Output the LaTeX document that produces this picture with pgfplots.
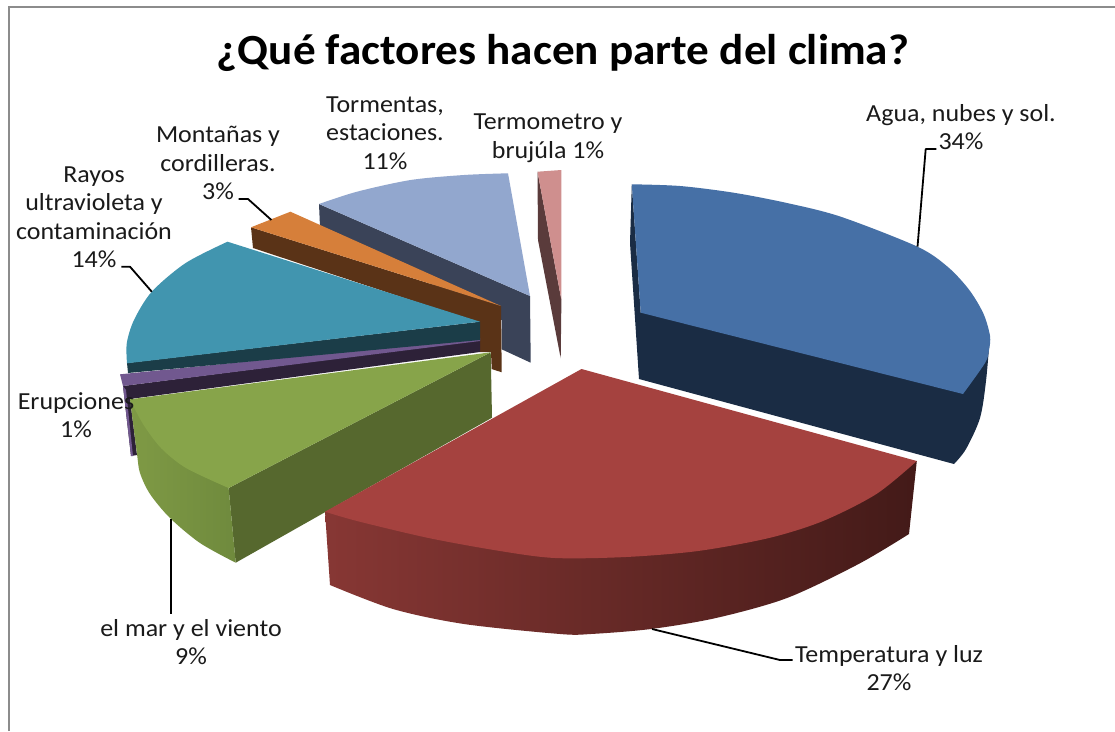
\documentclass[border=0pt]{standalone}
\usepackage{pgfplots}
\pgfplotsset{compat=1.18}
\usepackage{fontspec}
\setmainfont{Carlito}
\definecolor{cBlue}{HTML}{4670A6}\definecolor{cBlueD}{HTML}{1A2C44}
\definecolor{cRed}{HTML}{A5423F}\definecolor{cRedL}{HTML}{873734}\definecolor{cRedM}{HTML}{562321}\definecolor{cRedD}{HTML}{431A18}
\definecolor{cGreen}{HTML}{87A44A}\definecolor{cGreenD}{HTML}{56682E}\definecolor{cGreenL}{HTML}{7F9A45}\definecolor{cGreenM}{HTML}{6F8A3D}
\definecolor{cPurple}{HTML}{71588F}\definecolor{cPurpleD}{HTML}{2D2138}
\definecolor{cTeal}{HTML}{4195AF}\definecolor{cTealD}{HTML}{1B3D48}
\definecolor{cOrange}{HTML}{D67F3A}\definecolor{cOrangeD}{HTML}{5A3317}
\definecolor{cLBlue}{HTML}{92A7CE}\definecolor{cLBlueD}{HTML}{3A4358}
\definecolor{cPink}{HTML}{CF8F8E}\definecolor{cPinkD}{HTML}{5A3B3B}
\definecolor{cFrame}{HTML}{8C8C8C}\definecolor{cText}{HTML}{1A1A1A}
\tikzset{
  lab/.style={align=center,text=cText,transform shape,xscale=1.06,font=\fontsize{24.5}{28.5}\selectfont},
  lead/.style={draw=black,line width=1.8pt,line join=round},
  face/.style={draw=none,fill=#1}}
\begin{document}
\begin{tikzpicture}
\begin{axis}[scale only axis,width=1115pt,height=731pt,xmin=0,xmax=1115,ymin=0,ymax=731,y dir=reverse,hide axis]
\addplot[face=white] coordinates {(0,0)(1115,0)(1115,731)(0,731)} -- cycle;
\addplot[draw=cFrame,line width=2.5pt] coordinates {(9,731)(9,7)(1115,7)};
% blue
\addplot[face=cBlueD,smooth] coordinates {(990,335)(986,381)(980,418)(966,449)(954,464)} -- (639,379) -- (630,243) -- (631.8,184.3) -- (640.7,312.7) -- cycle;
\addplot[face=cBlue,smooth] coordinates {(631.8,184.3)(680,186)(733.6,192.7)(787,203)(840.7,216.7)(917.5,246.7)(947.9,267)(969.3,290)(983.6,314)(990,336)(989,350)(985,363)(963,394)} -- (640.7,312.7) -- cycle;
% pink
\addplot[face=cPinkD] coordinates {(537.5,171.7)(538,240)(560.7,358.3)(561.4,300)} -- cycle;
\addplot[face=cPink] coordinates {(537.5,171.7)(561.4,170)(561.4,300)} -- cycle;
% light blue
\addplot[face=cLBlueD] coordinates {(319,204)(320,227)(501.7,320)(501.7,349.3)(530.7,362.7)(530,296)} -- cycle;
\addplot[face=cLBlue,smooth] coordinates {(319,204)(357,191.7)(410.7,180)(464,175)(508,173.3)} -- (530,296) -- cycle;
% orange
\addplot[face=cOrangeD] coordinates {(251,227.3)(253,248)(480,323)(480,352)(491,352)(491.7,369)(501.7,372.3)(501,306)} -- cycle;
\addplot[face=cOrange] coordinates {(251,227.3)(290.4,211.7)(501,306)} -- cycle;
% purple
\addplot[face=cPurpleD] coordinates {(123,386)(480,340)(480,352)(130,399)(137,455)(131,456)} -- cycle;
\addplot[face=cPurple] coordinates {(120,374.3)(123,386)(480,341)(480,338)} -- cycle;
\addplot[face=cPurple] coordinates {(123,386)(126,390)(133,456)(131,456)} -- cycle;
% teal
\addplot[face=cTealD] coordinates {(127,363)(128,373)(480,340)(480,321.7)} -- cycle;
\addplot[face=cTeal,smooth] coordinates {(227.5,241.7)(185.7,263)(151.8,291.7)(134,320)(126.8,343)(127,363.3)} -- (480,321.7) -- cycle;
% green
\addplot[face=cGreenD] coordinates {(490.7,352.3)(228.6,488)(235.7,562.7)(492,417.7)} -- cycle;
\addplot[smooth,draw=none,left color=cGreenL,right color=cGreenM] coordinates {(130,399.3)(137,454)(140,473)(150,494)(170,518)(200,543)(235.7,562.7)} -- (228.6,488) -- cycle;
\addplot[face=cGreen,smooth] coordinates {(130,399.3)(143,424)(161,448)(186,468)(228.6,488)} -- (490.7,352.3) -- cycle;
% red
\addplot[smooth,draw=none,left color=cRedL,middle color=cRedM,right color=cRedD] coordinates {(330,585)(393,609)(464,624)(560,634)(591,634)(651,629)(716,618)(787,598)(858.6,564)(909,534)} -- (916.8,461) -- (325,511.7) -- cycle;
\addplot[face=cRed,smooth] coordinates {(916.8,461)(876.4,494)(823,521)(769,538)(698,551)(626,557)(555,558)(500,551)(428.6,538)(357,521)(325,511.7)} -- (581.5,369) -- cycle;
% leaders
\addplot[lead] coordinates {(936.4,149)(925.7,149)(917.5,246.7)};
\addplot[lead] coordinates {(792.5,660)(780,660)(652,629)};
\addplot[lead] coordinates {(170.7,519)(170.7,614)};
\addplot[lead] coordinates {(121.4,266.7)(130,266.7)(151.8,291.7)};
\addplot[lead] coordinates {(238.6,199)(248,199)(271.4,220)};
% text
\node[text=black,transform shape,xscale=1.05,font=\fontsize{43}{46}\selectfont\bfseries] at (axis cs:563,53) {¿Qué factores hacen parte del clima?};
\node[lab] at (axis cs:385,133) {Tormentas,\\estaciones.\\11\%};
\node[lab] at (axis cs:548,138) {Termometro y\\brujúla 1\%};
\node[lab] at (axis cs:218,163) {Montañas y\\cordilleras.\\3\%};
\node[lab] at (axis cs:94,217) {Rayos\\ultravioleta y\\contaminación\\14\%};
\node[lab] at (axis cs:961,127) {Agua, nubes y sol.\\34\%};
\node[lab] at (axis cs:889,668) {Temperatura y luz\\27\%};
\node[lab] at (axis cs:191,642) {el mar y el viento\\9\%};
\node[lab] at (axis cs:76,415) {Erupciones\\1\%};
\end{axis}
\end{tikzpicture}
\end{document}
